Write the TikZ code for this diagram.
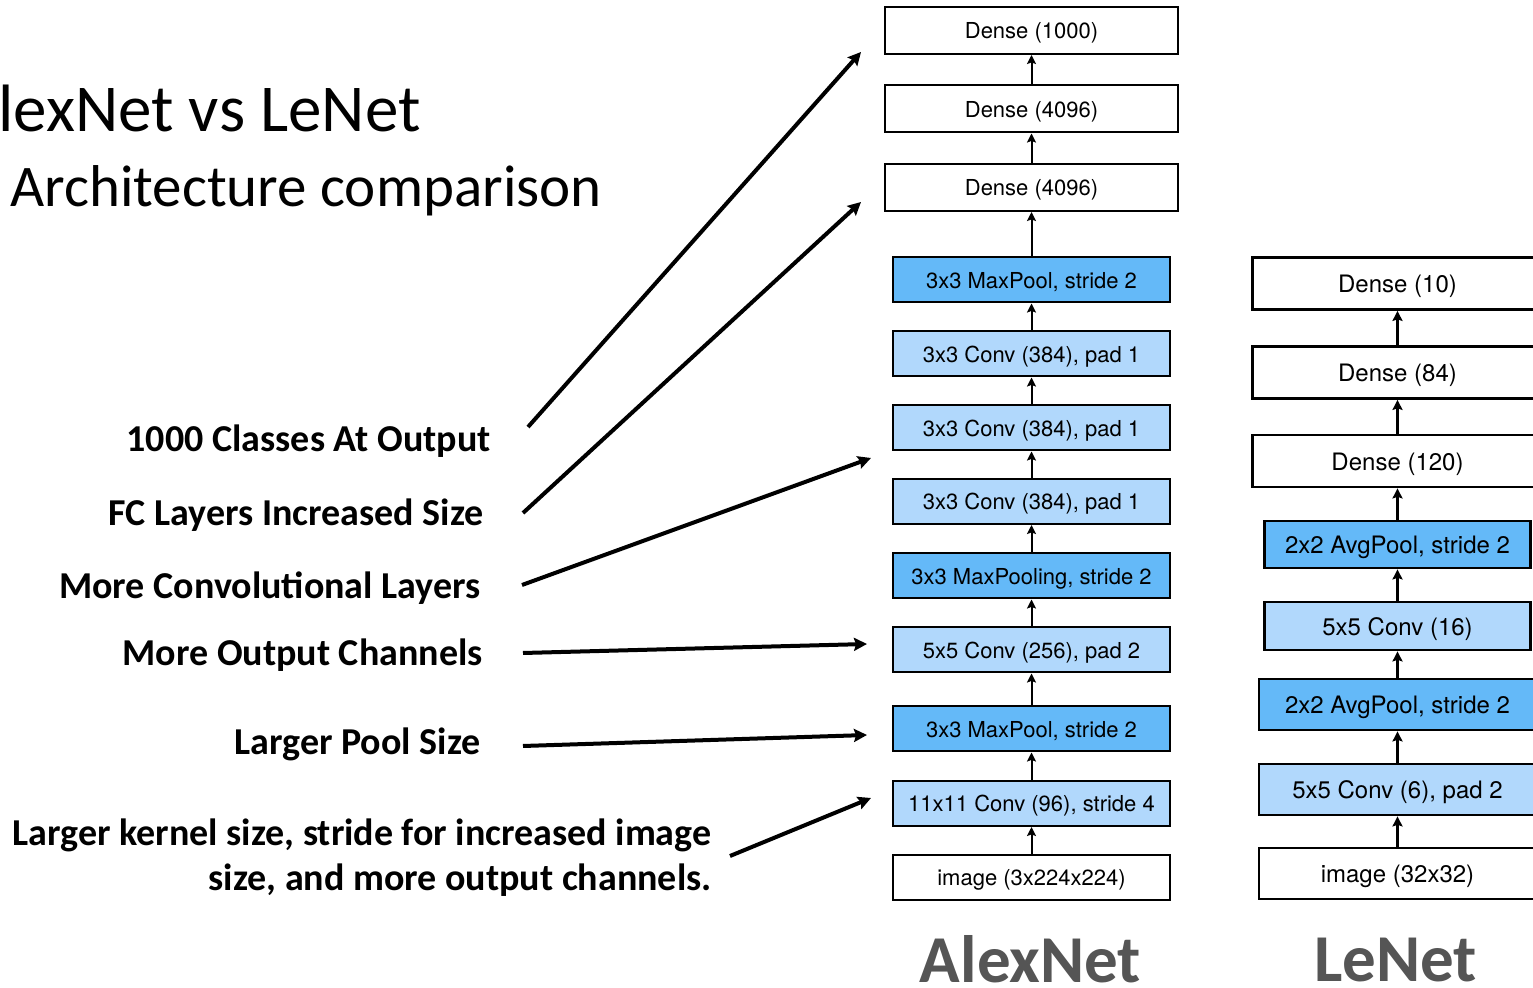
\documentclass[tikz,border=0pt]{standalone}
\usepackage{fontspec}
\setmainfont{Carlito}
\newfontfamily\boxfont{TeX Gyre Heros}
\usetikzlibrary{arrows.meta}

\definecolor{poolblue}{RGB}{100,185,248}
\definecolor{convblue}{RGB}{177,216,252}
\definecolor{netgrey}{RGB}{85,85,85}

\begin{document}
\begin{tikzpicture}[x=0.5pt,y=-0.5pt,
  % AlexNet column
  alexbox/.style={draw=black, line width=1pt, inner sep=0pt,
    minimum width=138.5pt, minimum height=22.5pt,
    text height=8.5pt, text depth=0pt,
    font=\boxfont\fontsize{11}{13}\selectfont},
  alexdense/.style={alexbox, fill=white, minimum width=146.5pt, minimum height=23.5pt},
  alexconv/.style={alexbox, fill=convblue},
  alexpool/.style={alexbox, fill=poolblue},
  alexplain/.style={alexbox, fill=white},
  alexflow/.style={line width=1pt, -{Stealth[length=4.5pt,width=4.5pt,inset=0.8pt]}},
  % LeNet column
  lenbox/.style={draw=black, line width=1.4pt, inner sep=0pt,
    minimum width=138.5pt, minimum height=25.5pt,
    text height=9.2pt, text depth=0pt,
    font=\boxfont\fontsize{12}{14}\selectfont},
  lendense/.style={lenbox, fill=white, minimum width=145pt, minimum height=26pt},
  lenconv/.style={lenbox, fill=convblue},
  lenpool/.style={lenbox, fill=poolblue},
  lenplain/.style={lenbox, fill=white},
  lenflow/.style={line width=1.4pt, -{Stealth[length=5pt,width=5pt,inset=0.8pt]}},
  % annotations
  note/.style={font=\bfseries\fontsize{19}{22.5}\selectfont, inner sep=0pt, anchor=base east},
  pointer/.style={line width=2pt, -{Stealth[length=6.5pt,width=6.5pt,inset=1pt]}},
  netname/.style={font=\bfseries\fontsize{33.5}{36}\selectfont, text=netgrey, inner sep=0pt, anchor=base}
]
\useasboundingbox (0,0) rectangle (1533,988);
\clip (0,0) rectangle (1533,988);

% title
\node[font=\fontsize{33.5}{38}\selectfont, inner sep=0pt, anchor=base west] (title1) at (-2,132) {lexNet vs LeNet};
\node[font=\fontsize{29.5}{34}\selectfont, inner sep=0pt, anchor=base west] (title2) at (10,207) {Architecture comparison};

% AlexNet layers
\node[alexdense] (ad3) at (1031.5,30.5) {Dense (1000)};
\node[alexdense] (ad2) at (1031.5,109) {Dense (4096)};
\node[alexdense] (ad1) at (1031.5,187.5) {Dense (4096)};
\node[alexpool]  (ap3) at (1031.5,280) {3x3 MaxPool, stride 2};
\node[alexconv]  (ac5) at (1031.5,354) {3x3 Conv (384), pad 1};
\node[alexconv]  (ac4) at (1031.5,428) {3x3 Conv (384), pad 1};
\node[alexconv]  (ac3) at (1031.5,501.5) {3x3 Conv (384), pad 1};
\node[alexpool]  (ap2) at (1031.5,576) {3x3 MaxPooling, stride 2};
\node[alexconv]  (ac2) at (1031.5,650) {5x5 Conv (256), pad 2};
\node[alexpool]  (ap1) at (1031.5,729) {3x3 MaxPool, stride 2};
\node[alexconv]  (ac1) at (1031.5,803.5) {11x11 Conv (96), stride 4};
\node[alexplain] (aimg) at (1031.5,877.5) {image (3x224x224)};

\foreach \lo/\hi in {aimg/ac1, ac1/ap1, ap1/ac2, ac2/ap2, ap2/ac3, ac3/ac4, ac4/ac5, ac5/ap3, ap3/ad1, ad1/ad2, ad2/ad3}
  \draw[alexflow] (\lo.north) -- (\lo.north |- \hi.south);

% LeNet layers
\node[lendense] (ld3) at (1397.5,283.5) {Dense (10)};
\node[lendense] (ld2) at (1397.5,372.5) {Dense (84)};
\node[lendense] (ld1) at (1397.5,461) {Dense (120)};
\node[lenpool, minimum width=133pt, minimum height=23.5pt] (lp2) at (1397.5,544.5) {2x2 AvgPool, stride 2};
\node[lenconv, minimum width=133pt, minimum height=24pt] (lc2) at (1397.5,626) {5x5 Conv (16)};
\node[lenpool]  (lp1) at (1397.5,704.5) {2x2 AvgPool, stride 2};
\node[lenconv]  (lc1) at (1397.5,789.5) {5x5 Conv (6), pad 2};
\node[lenplain] (limg) at (1397.5,873.5) {image (32x32)};

\foreach \lo/\hi in {limg/lc1, lc1/lp1, lp1/lc2, lc2/lp2, lp2/ld1, ld1/ld2, ld2/ld3}
  \draw[lenflow] (\lo.north) -- (\lo.north |- \hi.south);

% network names
\node[netname] (alexname) at (1030.5,982) {AlexNet};
\node[netname] (lename) at (1395.5,981) {LeNet};

% annotations
\node[note] (n1) at (491,452) {1000 Classes At Output};
\node[note] (n2) at (484,526) {FC Layers Increased Size};
\node[note] (n3) at (481,599) {More Convolutional Layers};
\node[note] (n4) at (483,666) {More Output Channels};
\node[note] (n5) at (481,755) {Larger Pool Size};
\node[note, align=right] (n6) at (712,891) {Larger kernel size, stride for increased image\\size, and more output channels.};

\coordinate (s1) at (528,427);  \coordinate (t1) at (861,52);
\coordinate (s2) at (523,513);  \coordinate (t2) at (861,202);
\coordinate (s3) at (522,585);  \coordinate (t3) at (871,458);
\coordinate (s4) at (523,653);  \coordinate (t4) at (867,644);
\coordinate (s5) at (523,746);  \coordinate (t5) at (867,735);
\coordinate (s6) at (730,856);  \coordinate (t6) at (871,798);

\foreach \i in {1,...,6}
  \draw[pointer] (s\i) -- (t\i);
\end{tikzpicture}
\end{document}
